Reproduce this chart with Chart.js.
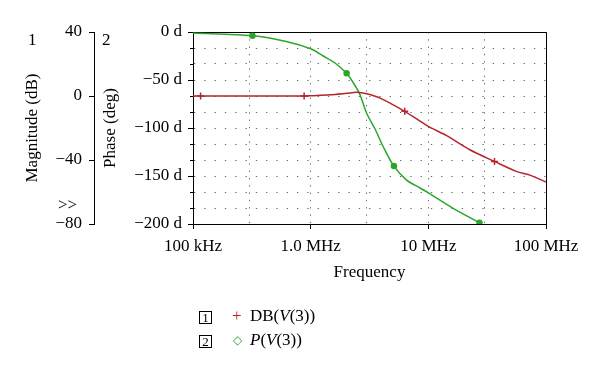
<!DOCTYPE html>
<html>
<head>
<meta charset="utf-8">
<script src="https://cdn.jsdelivr.net/npm/chart.js@4"></script>
<style>
  body { margin: 0; background: #fff; }
  #wrap { position: relative; width: 600px; height: 372px; font-family: "Liberation Serif", "DejaVu Serif", serif; }
  .lbl { position: absolute; font-size: 17px; line-height: 17px; color: #000; white-space: nowrap; }
  .box { position: absolute; width: 11px; height: 11px; border: 1px solid #000; font-size: 13px; line-height: 12px; text-align: center; }
</style>
</head>
<body>
<div id="wrap">
  <canvas id="result" width="600" height="372"></canvas>
  <div class="lbl" style="left:28px;top:31px">1</div>
  <div class="lbl" style="left:102px;top:31px">2</div>
  <div class="lbl" style="left:58px;top:196px">&gt;&gt;</div>
  <div class="box" style="left:199px;top:311px">1</div>
  <div class="lbl" style="left:232px;top:307px;color:#b3262b">+</div>
  <div class="lbl" style="left:250px;top:307px">DB(<i>V</i>(3))</div>
  <div class="box" style="left:199px;top:335px">2</div>
  <div class="lbl" style="left:233px;top:332px;color:#2ea52a;font-size:12px;font-weight:bold">&#9671;</div>
  <div class="lbl" style="left:250px;top:331px"><i>P</i>(<i>V</i>(3))</div>
</div>
<script>
"use strict";
// magnitude trace, DB(V(3))
const magFreq = [1e5, 1.16e5, 8.8e5, 1e6, 1.46e6, 2.02e6, 2.46e6, 2.99e6, 3.89e6, 6.3e6, 1e7, 1.43e7, 2.25e7, 3.65e7, 5.6e7, 7.4e7, 1e8];
const magDb = [0, 0, 0, 0.2, 0.8, 1.7, 2.3, 1.4, -1.3, -9.6, -19, -24.8, -33.6, -40.9, -47.1, -49.6, -53.8];
const magMarkers = [1.16e5, 8.8e5, 6.3e6, 3.65e7];

// phase trace, P(V(3))
const phaseFreq = [1e5, 3.2e5, 6.2e5, 1e6, 1.28e6, 1.61e6, 2.02e6, 2.22e6, 2.59e6, 2.99e6, 3.5e6, 4.14e6, 5.1e6, 6.54e6, 8.5e6, 1e7, 1.64e7, 2.72e7, 2.85e7];
const phaseDeg = [-1, -3.9, -9.8, -17.5, -25, -32.3, -43, -49.8, -63.7, -84.6, -100.3, -119.5, -139.7, -154.3, -162.5, -167.5, -183.9, -198.6, -200];
const phaseMarkers = [3.2e5, 2.02e6, 5.1e6, 2.72e7];

// axis ticks
const freqTicks = [1e5, 1e6, 1e7, 1e8];
const freqLabels = ["100 kHz", "1.0 MHz", "10 MHz", "100 MHz"];
const freqMinor = [3e5, 3e6, 3e7];
const magTicks = [40, 0, -40, -80];
const phaseTicks = [0, -50, -100, -150, -200];

function minus(v) {
  return v < 0 ? "\u2212" + Math.abs(v) : String(v);
}

function points(xs, ys) {
  return xs.map((x, i) => ({ x: x, y: ys[i] }));
}

Chart.defaults.font.family = '"Liberation Serif", "DejaVu Serif", serif';
Chart.defaults.font.size = 17;
Chart.defaults.color = "#000";

// frame and the small phase ticks
const framePlugin = {
  id: "frame",
  beforeDatasetsDraw(chart) {
    const { ctx, chartArea: a } = chart;
    ctx.save();
    ctx.strokeStyle = "#000";
    ctx.lineWidth = 1;
    ctx.beginPath();
    ctx.moveTo(a.left, a.top + 0.5);
    ctx.lineTo(a.right + 0.5, a.top + 0.5);
    ctx.lineTo(a.right + 0.5, a.bottom);
    ctx.stroke();
    const ym = chart.scales.yMag;
    ym.ticks.forEach((t) => {
      const y = Math.round(ym.getPixelForValue(t.value)) + 0.5;
      ctx.beginPath();
      ctx.moveTo(a.left, y);
      ctx.lineTo(a.left - 3, y);
      ctx.stroke();
    });
    ctx.restore();
  },
};

new Chart("result", {
  type: "scatter",
  data: {
    datasets: [
      {
        data: points(magFreq, magDb),
        yAxisID: "yMag",
        showLine: true,
        borderColor: "#b3262b",
        backgroundColor: "#b3262b",
        borderWidth: 1.5,
        tension: 0.3,
        pointStyle: "cross",
        pointBorderWidth: 1.5,
        pointRadius: magFreq.map((f) => (magMarkers.includes(f) ? 3.5 : 0)),
      },
      {
        data: points(phaseFreq, phaseDeg),
        yAxisID: "yPhase",
        showLine: true,
        borderColor: "#2ea52a",
        backgroundColor: "#2ea52a",
        borderWidth: 1.5,
        tension: 0.3,
        pointStyle: "circle",
        pointRadius: phaseFreq.map((f) => (phaseMarkers.includes(f) ? 2.5 : 0)),
      },
    ],
  },
  options: {
    responsive: false,
    animation: false,
    layout: { padding: { left: 20, right: 54, top: 32, bottom: 78 } },
    plugins: { legend: { display: false }, tooltip: { enabled: false } },
    scales: {
      x: {
        type: "logarithmic",
        position: "bottom",
        min: 1e5,
        max: 1e8,
        afterBuildTicks: (scale) => {
          scale.ticks = freqTicks.concat(freqMinor).sort((a, b) => a - b).map((v) => ({ value: v }));
        },
        afterFit: (scale) => { scale.height = 70; },
        ticks: {
          autoSkip: false,
          maxRotation: 0,
          padding: 7,
          callback: (v) => {
            const i = freqTicks.indexOf(v);
            return i >= 0 ? freqLabels[i] : "";
          },
        },
        grid: {
          color: "#666",
          tickLength: 5,
          tickColor: (c) => (freqTicks.includes(c.tick.value) ? "#000" : "rgba(0,0,0,0)"),
        },
        border: { color: "#000", dash: [1.3, 6] },
        title: { display: true, text: "Frequency", padding: { top: 0, bottom: 11 } },
      },
      yMag: {
        type: "linear",
        position: "left",
        weight: 1,
        min: -80,
        max: 40,
        afterFit: (scale) => { scale.width = 74; },
        ticks: {
          stepSize: 10,
          autoSkip: false,
          padding: 7,
          callback: (v) => (magTicks.includes(v) ? minus(v) : ""),
        },
        grid: {
          color: "#666",
          tickLength: 5,
          tickColor: (c) => (magTicks.includes(c.tick.value) ? "#000" : "rgba(0,0,0,0)"),
        },
        border: { color: "#000", dash: [1.3, 9] },
        title: { display: true, text: "Magnitude (dB)", padding: { top: 2, bottom: 0 } },
      },
      yPhase: {
        type: "linear",
        position: "left",
        weight: 0,
        min: -200,
        max: 0,
        afterBuildTicks: (scale) => {
          scale.ticks = phaseTicks.map((v) => ({ value: v }));
        },
        afterFit: (scale) => { scale.width = 99; },
        ticks: {
          autoSkip: false,
          padding: 6,
          callback: (v) => minus(v) + " d",
        },
        grid: { drawOnChartArea: false, tickLength: 5, tickColor: "#000" },
        border: { color: "#000" },
        title: { display: true, text: "Phase (deg)", padding: { top: 6, bottom: 0 } },
      },
    },
  },
  plugins: [framePlugin],
});
</script>
</body>
</html>
